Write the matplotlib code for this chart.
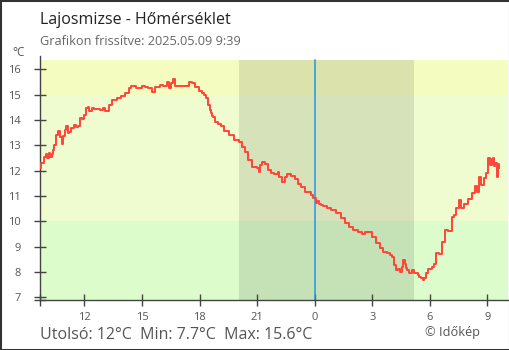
import matplotlib
matplotlib.use("Agg")
import matplotlib.pyplot as plt
from matplotlib.patches import Rectangle

plt.rcParams["font.family"] = ["Open Sans", "DejaVu Sans"]

# Measurement times (hours since midnight of the first day) and temperatures (°C)
hours = [
    9.69, 9.83, 9.95, 10.04, 10.11, 10.19, 10.26, 10.34, 10.38, 10.47,
    10.59, 10.67, 10.77, 10.87, 10.94, 10.99, 11.08, 11.17, 11.25, 11.40,
    11.52, 11.59, 11.69, 11.83, 11.93, 12.04, 12.16, 12.21, 12.30, 12.47,
    12.56, 12.71, 12.91, 12.99, 13.17, 13.34, 13.51, 13.60, 13.77, 13.82,
    14.03, 14.24, 14.38, 14.49, 14.64, 14.75, 14.90, 15.06, 15.25, 15.42,
    15.60, 15.77, 15.89, 16.03, 16.21, 16.38, 16.47, 16.54, 16.64, 16.82,
    16.99, 17.14, 17.34, 17.51, 17.68, 17.86, 18.03, 18.20, 18.29, 18.38,
    18.50, 18.55, 18.59, 18.67, 18.72, 18.90, 19.07, 19.16, 19.42, 19.68,
    19.94, 20.15, 20.29, 20.46, 20.63, 20.81, 20.95, 21.07, 21.12, 21.19,
    21.33, 21.50, 21.64, 21.77, 21.94, 22.06, 22.12, 22.20, 22.37, 22.51,
    22.59, 22.68, 22.86, 23.07, 23.20, 23.41, 23.59, 23.76, 23.87, 23.99,
    24.11, 24.18, 24.26, 24.37, 24.54, 24.72, 24.98, 25.24, 25.47, 25.67,
    25.93, 26.11, 26.37, 26.51, 26.72, 26.92, 27.10, 27.32, 27.50, 27.67,
    27.89, 27.98, 28.07, 28.19, 28.31, 28.40, 28.50, 28.58, 28.66, 28.74,
    28.80, 28.87, 28.97, 29.14, 29.23, 29.32, 29.40, 29.49, 29.58, 29.67,
    29.73, 29.84, 30.01, 30.19, 30.28, 30.40, 30.57, 30.71, 30.85, 31.06,
    31.20, 31.32, 31.44, 31.58, 31.67, 31.84, 32.10, 32.27, 32.41, 32.53,
    32.62, 32.76, 32.88, 33.00, 33.09, 33.18, 33.25, 33.31, 33.38, 33.44,
    33.52, 33.57, 33.63,
]
temps = [
    12.09, 12.29, 12.55, 12.66, 12.50, 12.68, 12.52, 12.65, 12.81, 13.01,
    13.41, 13.58, 13.34, 13.05, 13.35, 13.60, 13.76, 13.47, 13.54, 13.67,
    13.80, 13.72, 13.76, 14.07, 14.05, 14.20, 14.46, 14.52, 14.37, 14.48,
    14.43, 14.44, 14.39, 14.46, 14.37, 14.58, 14.79, 14.79, 14.88, 14.86,
    14.96, 15.05, 15.27, 15.33, 15.35, 15.28, 15.27, 15.33, 15.31, 15.28,
    15.12, 15.31, 15.29, 15.38, 15.33, 15.51, 15.25, 15.45, 15.60, 15.35,
    15.35, 15.35, 15.35, 15.49, 15.45, 15.31, 15.16, 15.05, 14.99, 14.86,
    14.59, 14.39, 14.26, 14.17, 14.13, 13.93, 13.83, 13.76, 13.58, 13.41,
    13.21, 13.14, 12.92, 12.75, 12.42, 12.16, 12.14, 12.09, 11.96, 12.22,
    12.35, 12.26, 12.02, 11.89, 11.87, 11.87, 11.95, 11.76, 11.56, 11.76,
    11.85, 11.87, 11.79, 11.66, 11.47, 11.37, 11.17, 11.17, 11.05, 10.91,
    10.73, 10.80, 10.68, 10.64, 10.60, 10.51, 10.45, 10.32, 10.12, 9.92,
    9.79, 9.66, 9.59, 9.50, 9.59, 9.59, 9.39, 9.15, 8.93, 8.80,
    8.74, 8.65, 8.60, 8.27, 8.08, 8.10, 8.01, 8.20, 8.47, 8.30,
    8.14, 8.08, 7.97, 8.08, 7.97, 7.95, 7.88, 7.81, 7.75, 7.70,
    7.75, 7.95, 8.10, 8.21, 8.30, 8.74, 8.71, 9.19, 9.66, 9.62,
    10.18, 10.25, 10.51, 10.84, 10.51, 10.67, 10.87, 11.10, 11.39, 11.17,
    11.74, 11.43, 11.70, 11.89, 12.49, 12.22, 12.45, 12.49, 12.20, 12.29,
    11.76, 12.25, 12.09,
]

x_ticks = [12, 15, 18, 21, 24, 27, 30, 33]
x_tick_labels = ["12", "15", "18", "21", "0", "3", "6", "9"]
y_ticks = [7, 8, 9, 10, 11, 12, 13, 14, 15, 16]

x_range = (9.70, 34.10)
night = (20.06, 29.18)
midnight = 24
bands = [(6.893, 10, "#dcfccc"), (10, 15, "#effcd0"), (15, 16.367, "#f5fcc0")]

place = "Lajosmizse"
updated = "2025.05.09 9:39"

W, H = 510, 350
fig = plt.figure(figsize=(W / 100, H / 100), dpi=100)
ax = fig.add_axes([40.3 / W, 1 - 300 / H, (508.5 - 40.3) / W, (300 - 55.7) / H])
ax.set_xlim(*x_range)
ax.set_ylim(6.893, 16.537)

# Temperature bands and night shading
for lo, hi, col in bands:
    ax.add_patch(Rectangle((x_range[0], lo), x_range[1] - x_range[0], hi - lo,
                           facecolor=col, edgecolor="none", zorder=0))
ax.add_patch(Rectangle((night[0], 6.893), night[1] - night[0], 16.367 - 6.893,
                       facecolor="black", alpha=0.1, edgecolor="none", zorder=1))
ax.plot([midnight, midnight], [6.893, 16.367], color="#2196e8", lw=1.1, zorder=2)

ax.plot(hours, temps, color="#ff4438", lw=1.4, drawstyle="steps-mid", zorder=3)

for side in ("top", "right"):
    ax.spines[side].set_visible(False)
for side in ("left", "bottom"):
    ax.spines[side].set_color("#444444")
    ax.spines[side].set_linewidth(1.0)

ax.set_xticks(x_ticks)
ax.set_xticklabels(x_tick_labels)
ax.set_yticks(y_ticks)
ax.set_xticks([x_range[0]], minor=True)
ax.set_yticks([6.893], minor=True)
ax.tick_params(which="both", direction="inout", length=9, width=1.0,
               color="#444444", labelcolor="#555555", labelsize=8,
               pad=0)
ax.tick_params(axis="x", which="major", pad=3.9)
ax.tick_params(axis="y", which="major", pad=9.6)

fig.text(40.5 / W, 1 - 24.3 / H, f"{place} - Hőmérséklet", fontsize=11.5,
         color="#222222", va="baseline", ha="left")
fig.text(40.5 / W, 1 - 45 / H, f"Grafikon frissítve: {updated}", fontsize=9.2,
         color="#666666", va="baseline", ha="left")
fig.text(19 / W, 1 - 56 / H, "°C", fontsize=8.5, color="#555555",
         va="baseline", ha="center")

summary = (f"Utolsó: {temps[-1]:.0f}°C  Min: {min(temps):.1f}°C  "
           f"Max: {max(temps):.1f}°C")
fig.text(40.5 / W, 1 - 339.3 / H, summary, fontsize=11.5, color="#555555",
         va="baseline", ha="left")
fig.text(425 / W, 1 - 336 / H, "© Időkép", fontsize=9.2, color="#555555",
         va="baseline", ha="left")

fig.patches.append(Rectangle((0, 0), 1, 1, transform=fig.transFigure,
                             fill=False, edgecolor="#333333", linewidth=2.2))

fig.savefig("out.png", dpi=100)
